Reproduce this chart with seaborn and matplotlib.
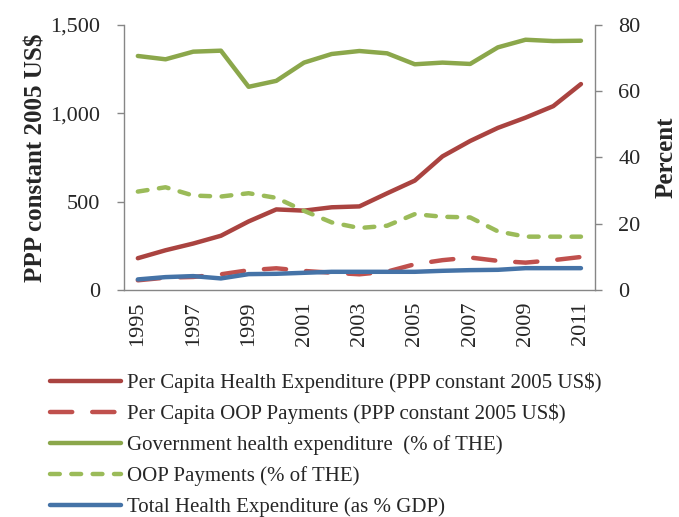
import numpy as np
import pandas as pd
import matplotlib
matplotlib.use("Agg")
import matplotlib.pyplot as plt
import seaborn as sns

sns.set_style("white")
plt.rcParams["font.family"] = ["Liberation Serif", "DejaVu Serif"]

years = list(range(1995, 2012))

# left axis, PPP constant 2005 US$
per_capita_the = [180, 225, 263, 307, 388, 456, 449, 468, 473, 547, 619,
                  756, 843, 917, 975, 1040, 1165]
per_capita_oop = [55, 70, 74, 89, 112, 123, 108, 98, 89, 104, 146,
                  169, 184, 165, 155, 169, 187]

# right axis, percent
gov_share = [70.6, 69.6, 71.9, 72.2, 61.3, 63.1, 68.6, 71.2, 72.1, 71.4, 68.1,
             68.6, 68.2, 73.2, 75.5, 75.1, 75.2]
oop_share = [29.7, 31.0, 28.5, 28.2, 29.2, 27.8, 23.9, 20.4, 18.7, 19.4, 22.9,
             22.1, 21.9, 17.7, 16.1, 16.1, 16.1]
the_gdp = [3.2, 3.9, 4.2, 3.5, 4.8, 4.9, 5.2, 5.5, 5.5, 5.5, 5.5,
           5.8, 6.0, 6.1, 6.6, 6.6, 6.6]

labels = ["Per Capita Health Expenditure (PPP constant 2005 US$)",
          "Per Capita OOP Payments (PPP constant 2005 US$)",
          "Government health expenditure  (% of THE)",
          "OOP Payments (% of THE)",
          "Total Health Expenditure (as % GDP)"]

df = pd.DataFrame({"pos": np.arange(len(years)), "the": per_capita_the,
                   "oop": per_capita_oop, "gov": gov_share,
                   "oops": oop_share, "gdp": the_gdp})

red = "#AA4340"
red2 = "#C0504D"
green = "#8BA74B"
green2 = "#9BBB59"
blue = "#4573A7"
grey = "#868686"

fig, ax = plt.subplots(figsize=(6.79, 5.17), dpi=100)
fig.subplots_adjust(left=0.1826, right=0.876, top=0.952, bottom=0.439)
ax2 = ax.twinx()

lw = 3.2
sns.lineplot(data=df, x="pos", y="the", ax=ax, color=red, lw=lw,
             label=labels[0], legend=False, solid_capstyle="round")
sns.lineplot(data=df, x="pos", y="oop", ax=ax, color=red2, lw=lw,
             linestyle=(0, (5, 4.5)), dash_capstyle="round",
             label=labels[1], legend=False)
sns.lineplot(data=df, x="pos", y="gov", ax=ax2, color=green, lw=lw,
             label=labels[2], legend=False, solid_capstyle="round")
sns.lineplot(data=df, x="pos", y="oops", ax=ax2, color=green2, lw=lw,
             linestyle=(0, (2.2, 2.6)), dash_capstyle="round",
             label=labels[3], legend=False)
sns.lineplot(data=df, x="pos", y="gdp", ax=ax2, color=blue, lw=lw,
             label=labels[4], legend=False, solid_capstyle="round")

ax.set_xlim(-0.5, len(years) - 0.5)
ax.set_ylim(0, 1500)
ax2.set_ylim(0, 80)
ax.set_yticks([0, 500, 1000, 1500])
ax.set_yticklabels(["0", "500", "1,000", "1,500"])
ax2.set_yticks([0, 20, 40, 60, 80])

# tick marks at category boundaries, labels at odd years
ax.set_xticks(np.arange(len(years) + 1) - 0.5)
ax.set_xticklabels([])
ax.set_xticks(np.arange(0, len(years), 2), minor=True)
ax.set_xticklabels([str(y) for y in years[::2]], minor=True, rotation=90)
ax.tick_params(axis="x", which="minor", length=0, pad=8, labelsize=16)
ax.tick_params(axis="x", which="major", length=5, color=grey, width=1, direction="out")
ax.tick_params(axis="y", length=5, color=grey, width=1, direction="out", labelsize=16, pad=12)
ax2.tick_params(axis="y", length=5, color=grey, width=1, direction="out", labelsize=16, pad=12)

for a in (ax, ax2):
    for s in a.spines.values():
        s.set_visible(False)
    a.set_xlabel("")
    a.grid(False)
ax.spines["left"].set_visible(True)
ax.spines["bottom"].set_visible(True)
ax2.spines["right"].set_visible(True)
for s in (ax.spines["left"], ax.spines["bottom"], ax2.spines["right"]):
    s.set_color(grey)
    s.set_linewidth(1)

ax.set_ylabel("PPP constant 2005 US$", fontsize=18, fontweight="bold", labelpad=2)
ax2.set_ylabel("Percent", fontsize=18, fontweight="bold", labelpad=10)

h1, l1 = ax.get_legend_handles_labels()
h2, l2 = ax2.get_legend_handles_labels()
fig.legend(h1 + h2, l1 + l2, loc="upper left", bbox_to_anchor=(0.058, 0.3),
           frameon=False, fontsize=15, handlelength=3.4, handletextpad=0.3,
           labelspacing=0.53, borderpad=0)

fig.savefig("out.png", dpi=100)
